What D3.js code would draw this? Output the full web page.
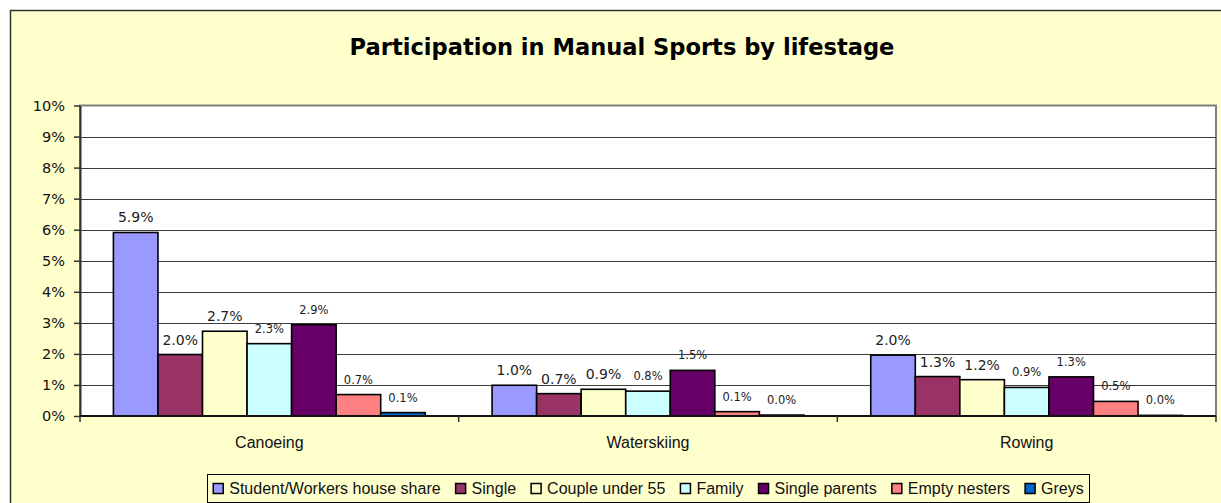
<!DOCTYPE html>
<html>
<head>
<meta charset="utf-8">
<script src="https://cdn.jsdelivr.net/npm/d3@7"></script>
<style>
  html, body { margin: 0; padding: 0; background: #ffffff; }
  svg { display: block; }
</style>
</head>
<body>
<svg id="chart" width="1221" height="503"></svg>
<script>
// ---------- data ----------
const titleText = "Participation in Manual Sports by lifestage";
const categories = ["Canoeing", "Waterskiing", "Rowing"];
const seriesNames = ["Student/Workers house share", "Single", "Couple under 55", "Family", "Single parents", "Empty nesters", "Greys"];
const studentValues = [5.91, 0.99, 1.96];
const singleValues = [1.98, 0.72, 1.27];
const coupleValues = [2.73, 0.86, 1.17];
const familyValues = [2.33, 0.80, 0.92];
const singleParentValues = [2.94, 1.47, 1.26];
const emptyNesterValues = [0.69, 0.14, 0.47];
const greysValues = [0.11, 0.03, 0.02];
const seriesColors = ["#9999FF", "#993366", "#FFFFCC", "#CCFFFF", "#660066", "#FF8080", "#0066CC"];
const yTickValues = [0, 1, 2, 3, 4, 5, 6, 7, 8, 9, 10];
const yTickLabels = ["0%", "1%", "2%", "3%", "4%", "5%", "6%", "7%", "8%", "9%", "10%"];

const seriesValues = [studentValues, singleValues, coupleValues, familyValues, singleParentValues, emptyNesterValues, greysValues];
const series = seriesNames.map((name, i) => ({ name, color: seriesColors[i], values: seriesValues[i], idx: i }));

// ---------- layout ----------
const svg = d3.select("#chart");
const plot = { l: 80, r: 1216, t: 105.5, b: 416 };
const bg = "#FFFFCC";

// outer chart area (right/bottom edges outside the window)
svg.append("rect").attr("x", 10.5).attr("y", 10.5).attr("width", 1240).attr("height", 520)
  .attr("fill", bg).attr("stroke", "#333").attr("stroke-width", 1.5);

const x0 = d3.scaleBand().domain(categories).range([plot.l, plot.r]).paddingInner(0).paddingOuter(0);
const x1 = d3.scaleBand().domain(seriesNames).range([0, x0.bandwidth()]).paddingInner(0).paddingOuter(0.75);
const y = d3.scaleLinear().domain([0, 10]).range([plot.b, plot.t]);

// plot area
svg.append("rect").attr("x", plot.l).attr("y", plot.t).attr("width", plot.r - plot.l).attr("height", plot.b - plot.t)
  .attr("fill", "#ffffff").attr("stroke", "#808080").attr("stroke-width", 2);

// gridlines
svg.append("g").selectAll("line").data(yTickValues.filter(v => v > 0 && v < 10)).join("line")
  .attr("x1", plot.l).attr("x2", plot.r)
  .attr("y1", d => Math.round(y(d)) + 0.5).attr("y2", d => Math.round(y(d)) + 0.5)
  .attr("stroke", "#3c3c3c").attr("stroke-width", 1);

// title
const title = svg.append("text").attr("x", 622).attr("y", 55).attr("text-anchor", "middle")
  .attr("font-family", "'DejaVu Sans', Verdana, sans-serif").attr("font-weight", "bold")
  .attr("font-size", 22).attr("fill", "#000").text(titleText);
{
  const len = title.node().getComputedTextLength();
  title.attr("font-size", 22 * 545 / len);
}

// bars
const groups = svg.append("g").selectAll("g").data(series).join("g");
groups.selectAll("rect").data(s => s.values.map((v, j) => ({ v, cat: categories[j], s }))).join("rect")
  .attr("x", d => x0(d.cat) + x1(d.s.name))
  .attr("y", d => y(d.v))
  .attr("width", x1.bandwidth())
  .attr("height", d => y(0) - y(d.v))
  .attr("fill", d => d.s.color)
  .attr("stroke", "#000").attr("stroke-width", 1.6);

// data labels
const fmt = d3.format(".1f");
groups.selectAll("text").data(s => s.values.map((v, j) => ({ v, cat: categories[j], s }))).join("text")
  .attr("x", d => x0(d.cat) + x1(d.s.name) + x1.bandwidth() / 2)
  .attr("y", d => y(d.v) - (d.s.idx < 3 ? 10 : 11))
  .attr("text-anchor", "middle")
  .attr("font-family", "'DejaVu Sans', Verdana, sans-serif")
  .attr("font-size", d => d.s.idx < 3 ? 14 : 11.5)
  .attr("fill", "#222")
  .text(d => fmt(d.v) + "%");

// y axis
const yAxis = d3.axisLeft(y).tickValues(yTickValues).tickFormat((d, i) => yTickLabels[i])
  .tickSize(6).tickSizeOuter(0).tickPadding(9);
const gy = svg.append("g").attr("transform", `translate(${plot.l},0)`).call(yAxis);
gy.select(".domain").attr("stroke", "#333").attr("stroke-width", 2);
gy.selectAll(".tick line").attr("stroke", "#333").attr("stroke-width", 1.5);
gy.selectAll(".tick text").attr("font-family", "'DejaVu Sans', Verdana, sans-serif").attr("font-size", 14.5).attr("fill", "#111");

// x axis
const gx = svg.append("g");
gx.append("line").attr("x1", plot.l).attr("x2", plot.r).attr("y1", plot.b).attr("y2", plot.b)
  .attr("stroke", "#111").attr("stroke-width", 2);
const boundaries = categories.map(c => x0(c)).concat([x0.range()[1]]);
gx.selectAll("line.tk").data(boundaries).join("line").attr("class", "tk")
  .attr("x1", d => d).attr("x2", d => d).attr("y1", plot.b).attr("y2", plot.b + 6)
  .attr("stroke", "#333").attr("stroke-width", 1.5);
gx.selectAll("text").data(categories).join("text")
  .attr("x", d => x0(d) + x0.bandwidth() / 2).attr("y", 448)
  .attr("text-anchor", "middle")
  .attr("font-family", "'Liberation Sans', Arial, sans-serif").attr("font-size", 16).attr("fill", "#111")
  .text(d => d);

// legend
const legBox = { x: 207.5, y: 474.5, w: 882, h: 28 };
const lg = svg.append("g");
lg.append("rect").attr("x", legBox.x).attr("y", legBox.y).attr("width", legBox.w).attr("height", legBox.h)
  .attr("fill", bg).attr("stroke", "#000").attr("stroke-width", 1);
const items = lg.selectAll("g").data(series).join("g");
items.append("rect").attr("class", "sw").attr("width", 10).attr("height", 10)
  .attr("fill", d => d.color).attr("stroke", "#000").attr("stroke-width", 1.5);
items.append("text").attr("x", 16).attr("y", 10)
  .attr("font-family", "'Liberation Sans', Arial, sans-serif").attr("font-size", 16).attr("fill", "#111")
  .text(d => d.name);
const widths = [];
items.each(function () { widths.push(16 + d3.select(this).select("text").node().getComputedTextLength()); });
const totalText = d3.sum(widths);
const gap = (legBox.w - 11 - totalText) / (series.length - 1 + 0.0);
let cx = legBox.x + 5;
const usedGap = Math.min(15, (legBox.w - 11 - totalText) / 6);
const span = totalText + usedGap * 6;
cx = legBox.x + (legBox.w - span) / 2;
items.attr("transform", (d, i) => {
  const px = cx;
  cx += widths[i] + usedGap;
  return `translate(${px},${483.5})`;
});
</script>
</body>
</html>
